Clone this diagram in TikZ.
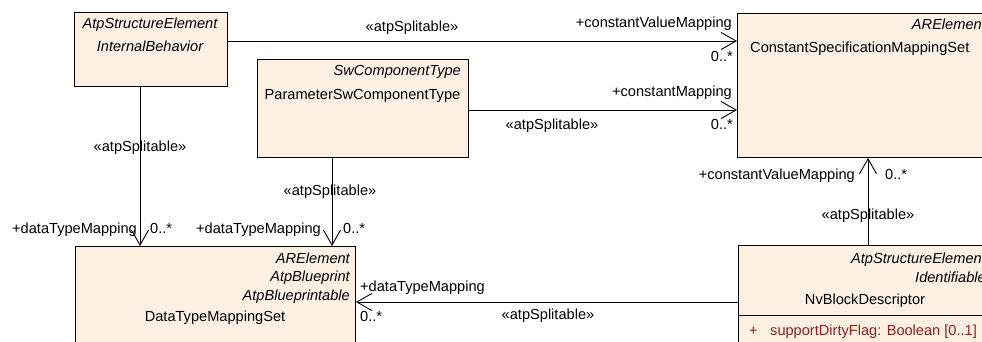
\documentclass[tikz,border=0pt]{standalone}
\usepackage{fontspec}
\setmainfont{Liberation Sans}
\usetikzlibrary{arrows.meta,calc}
\definecolor{boxfill}{RGB}{251,240,226}
\definecolor{attrred}{RGB}{150,30,30}
\tikzset{
 cls/.style={draw=black, fill=boxfill, line width=0.9pt, inner sep=0pt, anchor=north west},
 txt/.style={inner sep=0pt, font=\fontsize{14.6}{17}\selectfont},
 itx/.style={inner sep=0pt, font=\fontsize{14.6}{17}\selectfont\itshape},
 assoc/.style={line width=0.9pt, -{Straight Barb[length=15pt,width=17pt,line width=0.9pt]}},
 plain/.style={line width=0.9pt},
}
\begin{document}
\begin{tikzpicture}[x=1pt,y=-1pt]
\useasboundingbox (0,0) rectangle (982,342);
\clip (0,0) rectangle (982,342);
% boxes
\node[cls, minimum width=153pt, minimum height=74pt] (ib) at (74,12) {};
\node[cls, minimum width=211pt, minimum height=98pt] (param) at (257,59) {};
\node[cls, minimum width=260pt, minimum height=144pt] (csms) at (737,13) {};
\node[cls, minimum width=260pt, minimum height=120pt] (nvb) at (738,245) {};
\node[cls, minimum width=280pt, minimum height=120pt] (dtms) at (75,246) {};
\draw[plain] (nvb.west |- 0,315) -- (nvb.east |- 0,315);
% box texts
\node[itx, anchor=base] (ib1) at (150,29) {AtpStructureElement};
\node[itx, anchor=base] (ib2) at (150,52) {InternalBehavior};
\node[itx, anchor=base east] (pa1) at (461,76) {SwComponentType};
\node[txt, anchor=base] (pa2) at (362.5,100) {ParameterSwComponentType};
\node[itx, anchor=base east] (cs1) at (986,30) {ARElement};
\node[txt, anchor=base west] (cs2) at (750,53) {ConstantSpecificationMappingSet};
\node[itx, anchor=base east] (nv1) at (986,263) {AtpStructureElement};
\node[itx, anchor=base east] (nv2) at (986,282) {Identifiable};
\node[txt, anchor=base] (nv3) at (865,304) {NvBlockDescriptor};
\node[txt, anchor=base west, text=attrred] (nv4) at (749,335) {+};
\node[txt, anchor=base west, text=attrred] (nv5) at (770,335) {supportDirtyFlag: Boolean [0..1]};
\node[itx, anchor=base east] (dt1) at (350,263) {ARElement};
\node[itx, anchor=base east] (dt2) at (350,281) {AtpBlueprint};
\node[itx, anchor=base east] (dt3) at (350,300) {AtpBlueprintable};
\node[txt, anchor=base] (dt4) at (215,321) {DataTypeMappingSet};
% connectors
\draw[assoc] (ib.east |- 0,41) -- (csms.west |- 0,41);
\draw[assoc] (param.east |- 0,110) -- (csms.west |- 0,110);
\draw[assoc] (ib.south -| 140,0) -- (dtms.north -| 140,0);
\draw[assoc] (param.south -| 332,0) -- (dtms.north -| 332,0);
\draw[assoc] (nvb.north -| 868,0) -- (csms.south -| 868,0);
\draw[assoc] (nvb.west |- 0,302) -- (dtms.east |- 0,302);
% connector labels
\node[txt, anchor=base] (l1) at (412,32) {«atpSplitable»};
\node[txt, anchor=base east] (l2) at (732,28) {+constantValueMapping};
\node[txt, anchor=base east] (l3) at (733,62) {0..*};
\node[txt, anchor=base east] (l4) at (732,97) {+constantMapping};
\node[txt, anchor=base east] (l5) at (733,130) {0..*};
\node[txt, anchor=base] (l6) at (552,129) {«atpSplitable»};
\node[txt, anchor=base] (l7) at (140,151) {«atpSplitable»};
\node[txt, anchor=base east] (l8) at (137,233) {+dataTypeMapping};
\node[txt, anchor=base west] (l9) at (150,233) {0..*};
\node[txt, anchor=base] (l10) at (330,195) {«atpSplitable»};
\node[txt, anchor=base east] (l11) at (321,233) {+dataTypeMapping};
\node[txt, anchor=base west] (l12) at (343,233) {0..*};
\node[txt, anchor=base east] (l13) at (855,179) {+constantValueMapping};
\node[txt, anchor=base west] (l14) at (885,179) {0..*};
\node[txt, anchor=base] (l15) at (868,219) {«atpSplitable»};
\node[txt, anchor=base west] (l16) at (360,291) {+dataTypeMapping};
\node[txt, anchor=base west] (l17) at (360,321) {0..*};
\node[txt, anchor=base] (l18) at (548,319) {«atpSplitable»};
\end{tikzpicture}
\end{document}
